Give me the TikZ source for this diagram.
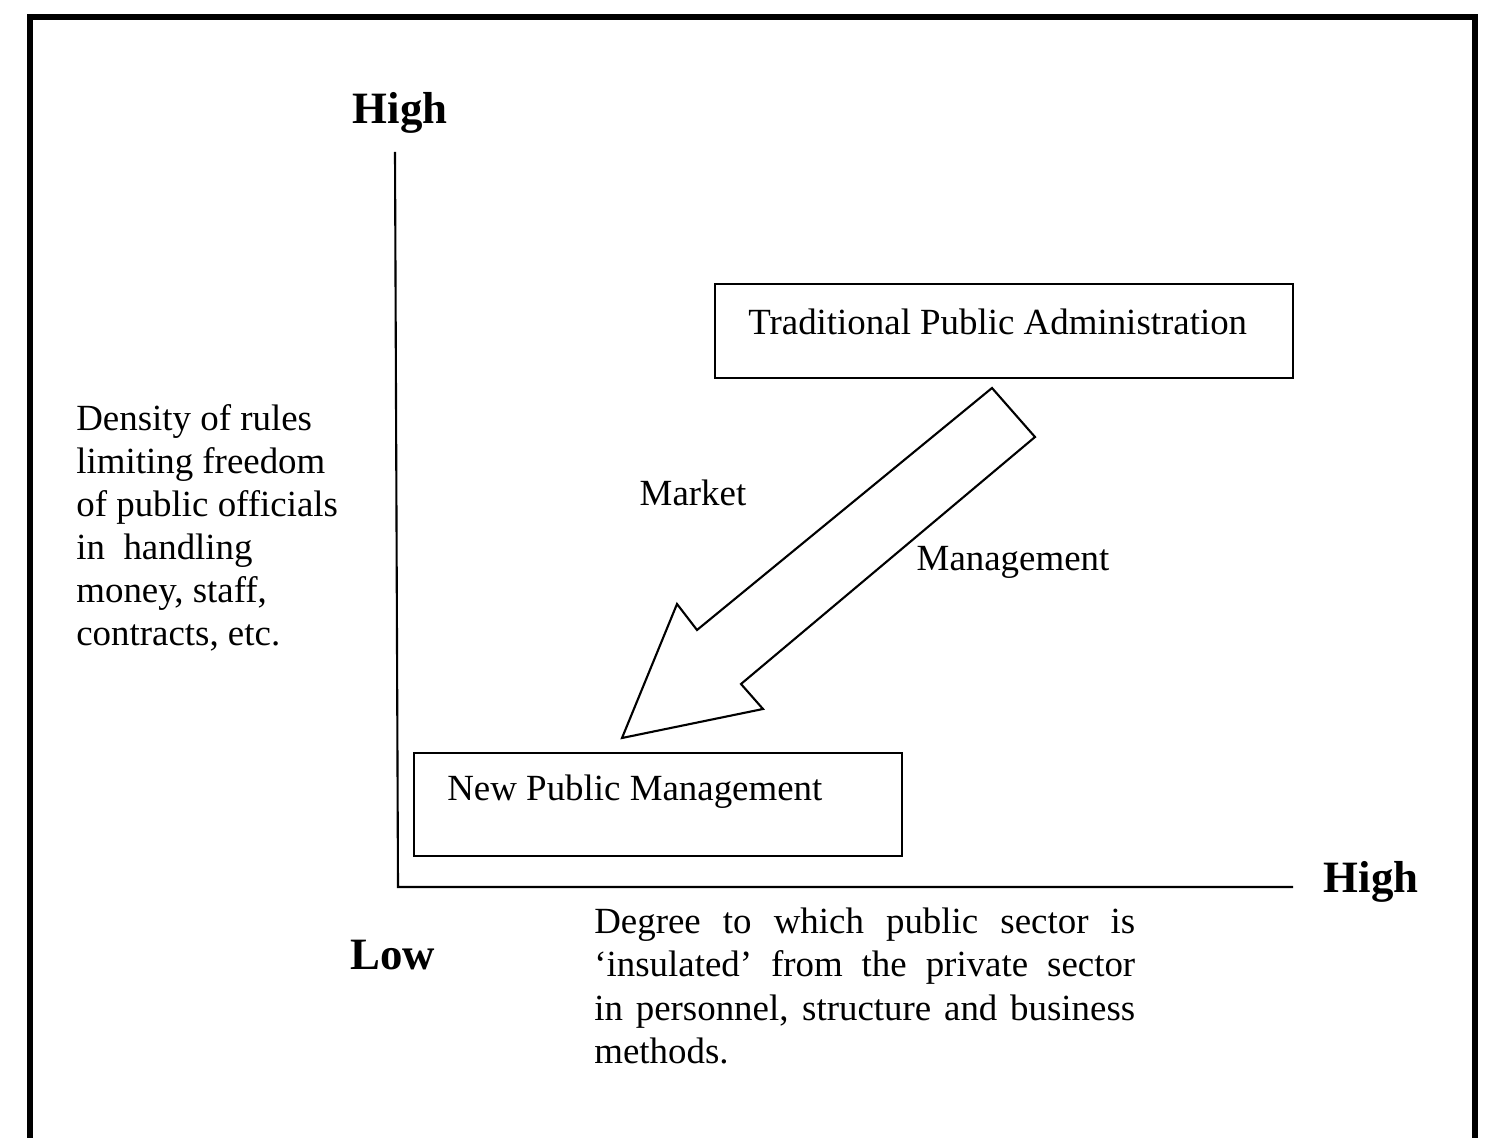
\documentclass[tikz,border=0pt]{standalone}
\usepackage{fontspec}
\setmainfont{Liberation Serif}
\begin{document}
\begin{tikzpicture}[x=0.02cm,y=-0.02cm,
  txt/.style={font=\fontsize{21}{24.5}\selectfont,inner sep=0},
  big/.style={font=\fontsize{25.5}{30}\selectfont\bfseries,inner sep=0},
  box/.style={draw,line width=1.2pt}]
\useasboundingbox (0,0) rectangle (1495,1138);
\draw[line width=3pt] (30,1140) -- (30,17) -- (1475,17) -- (1475,1140);
\coordinate (vt) at (395,152); \coordinate (o) at (398,887); \coordinate (hr) at (1293,887);
\draw[line width=1.2pt] (vt) -- (o) -- (hr);
\draw[box] (715,284) rectangle (1293,378);
\node[txt,anchor=west] (tpa) at (748,322) {Traditional Public Administration};
\draw[box] (414,753) rectangle (902,856);
\node[txt,anchor=west] (npm) at (447,792) {New Public Management};
\draw[line width=1.2pt,line join=miter] (992,388) -- (1035,437) -- (741,684) -- (763,709) -- (622,738) -- (677,604) -- (697,630) -- cycle;
\node[big] (h1) at (400,113) {High};
\node[big] (h2) at (1371,882) {High};
\node[big] (lw) at (393,955) {Low};
\node[txt] (mk) at (693,493) {Market};
\node[txt] (mg) at (1013,562) {Management};
\node[txt,anchor=north west,align=left] (lt) at (76,404) {Density of rules\\limiting freedom\\of public officials\\in\ \ handling\\money, staff,\\contracts, etc.};
\node[txt,anchor=north west,text width=10.82cm,align=justify] (bt) at (594,908) {Degree to which public sector is `insulated' from the private sector in personnel, structure and business methods.};
\end{tikzpicture}
\end{document}
